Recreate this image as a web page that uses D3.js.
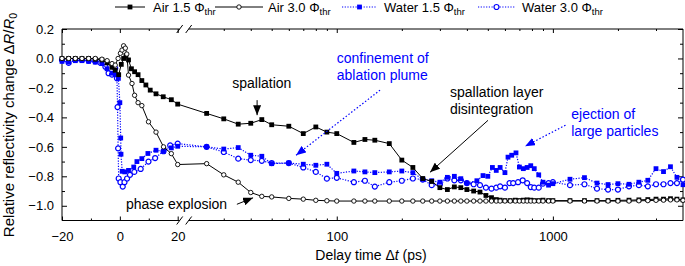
<!DOCTYPE html>
<html>
<head>
<meta charset="utf-8">
<script src="https://cdn.jsdelivr.net/npm/d3@7"></script>
<style>
  body { margin: 0; background: #fff; }
  svg { display: block; font-family: "Liberation Sans", Arial, sans-serif; }
</style>
</head>
<body>
<div id="chart"></div>
<script>

// [delay time (ps), relative reflectivity change]
const air15 = [
    [-20,0],[-17.7,0],[-15.4,0],[-13.1,0],[-10.8,0],[-8.5,-0.005],[-6.2,-0.01],[-4.4,-0.03],[-2.7,-0.06],[-1.6,-0.08],
    [-0.4,-0.11],[0.5,-0.04],[1.3,0],[2.1,0.02],[3,-0.01],[4,-0.07],[5.1,-0.09],[6.3,-0.11],[7.6,-0.15],[9,-0.18],
    [10.5,-0.215],[12.5,-0.24],[15,-0.26],[17.8,-0.28],[20,-0.31],
    [25,-0.373],[30,-0.41],[35,-0.446],[40,-0.44],[45,-0.415],[50,-0.45],[60,-0.46],[70,-0.51],[80,-0.465],[90,-0.5],
    [100,-0.51],[120,-0.57],[135,-0.55],[150,-0.555],[175,-0.578],[200,-0.69],[225,-0.74],[250,-0.815],[275,-0.835],[300,-0.877],
    [325,-0.89],[350,-0.872],[375,-0.877],[400,-0.89],[430,-0.9],[460,-0.907],[490,-0.93],[520,-0.945],[547,-0.958],[570,-0.962],
    [600,-0.965],[635,-0.965],[670,-0.962],[700,-0.965],[730,-0.962],[760,-0.96],[790,-0.962],[820,-0.965],[860,-0.965],[900,-0.962],
    [955,-0.965],[1000,-0.965],[1200,-0.965],[1400,-0.965],[1600,-0.965],[1800,-0.965],[2000,-0.963],[2250,-0.962],[2500,-0.96],[2750,-0.958],
    [3000,-0.955],[3250,-0.955],[3500,-0.952],[3750,-0.955],[4000,-0.96]
];

const air30 = [
    [-20,0],[-17.7,0],[-15.4,0],[-13.1,0],[-10.8,0],[-8.5,0],[-6.2,-0.005],[-4.4,-0.015],[-2.7,-0.035],[-1.6,-0.045],
    [-0.6,0],[0.2,0.035],[0.75,0.057],[1.3,0.086],[1.9,0.07],[2.4,0.03],[3,-0.113],[4.2,-0.17],[5.1,-0.25],[6.3,-0.3],
    [7.6,-0.32],[9.9,-0.43],[12.5,-0.5],[15.1,-0.6],[17.8,-0.646],[20,-0.72],
    [25,-0.714],[30,-0.79],[35,-0.84],[40,-0.91],[45,-0.936],[50,-0.94],[60,-0.95],[70,-0.955],[80,-0.963],[90,-0.966],
    [100,-0.968],[120,-0.968],[135,-0.968],[150,-0.968],[175,-0.968],[200,-0.968],[225,-0.968],[250,-0.968],[275,-0.968],[300,-0.968],
    [325,-0.968],[350,-0.968],[375,-0.968],[400,-0.968],[430,-0.968],[460,-0.968],[490,-0.968],[520,-0.968],[547,-0.968],[570,-0.968],
    [600,-0.968],[635,-0.968],[670,-0.968],[700,-0.968],[730,-0.968],[760,-0.968],[790,-0.968],[820,-0.968],[860,-0.968],[900,-0.968],
    [955,-0.968],[1000,-0.968],[1200,-0.968],[1400,-0.968],[1600,-0.968],[1800,-0.968],[2000,-0.968],[2250,-0.968],[2500,-0.966],[2750,-0.965],
    [3000,-0.963],[3250,-0.962],[3500,-0.96],[3750,-0.96],[4000,-0.963]
];

const water15 = [
    [-20,-0.02],[-17.7,-0.025],[-15.4,-0.015],[-13.1,-0.015],[-10.8,-0.02],[-8.5,-0.025],[-6.2,-0.035],[-4.4,-0.07],[-2.7,-0.1],[-1.6,-0.11],
    [-0.5,-0.135],[0,-0.3],[0.3,-0.54],[0.4,-0.65],[0.8,-0.766],[1.7,-0.77],[3,-0.76],[4.8,-0.737],[5.9,-0.7],[7.6,-0.68],
    [9.7,-0.645],[12.5,-0.623],[15.1,-0.63],[17.8,-0.607],[20,-0.596],
    [25,-0.6],[30,-0.615],[35,-0.605],[40,-0.657],[45,-0.664],[50,-0.714],[60,-0.71],[70,-0.718],[80,-0.725],[90,-0.718],
    [100,-0.78],[120,-0.764],[135,-0.77],[150,-0.775],[175,-0.77],[200,-0.764],[225,-0.775],[250,-0.82],[275,-0.83],[300,-0.84],
    [325,-0.807],[350,-0.8],[375,-0.816],[400,-0.846],[445,-0.83],[475,-0.795],[500,-0.8],[525,-0.74],[547,-0.76],[570,-0.74],
    [600,-0.775],[620,-0.67],[645,-0.657],[675,-0.641],[700,-0.737],[730,-0.748],[760,-0.74],[790,-0.728],[820,-0.748],[860,-0.79],
    [900,-0.84],[955,-0.86],[1000,-0.85],[1200,-0.82],[1400,-0.809],[1600,-0.846],[1800,-0.856],[2000,-0.85],[2250,-0.854],[2500,-0.84],
    [2750,-0.827],[3000,-0.748],[3250,-0.768],[3500,-0.735],[3750,-0.807],[4000,-0.857]
];

const water30 = [
    [-20,-0.01],[-17.7,-0.03],[-15.4,-0.01],[-13.1,-0.01],[-10.8,-0.015],[-8.5,-0.02],[-6.7,-0.03],[-5,-0.056],[-3.9,-0.1],[-2.7,-0.11],
    [-1.6,-0.067],[-1,-0.135],[-0.8,-0.33],[-0.6,-0.61],[-0.4,-0.815],[0.2,-0.84],[1,-0.87],[1.6,-0.84],[2.5,-0.815],[3.5,-0.79],
    [5,-0.77],[7.2,-0.75],[9.9,-0.7],[12.2,-0.676],[15.1,-0.63],[17.4,-0.59],[20,-0.578],
    [25,-0.6],[30,-0.635],[35,-0.68],[40,-0.69],[45,-0.695],[50,-0.71],[60,-0.71],[70,-0.74],[80,-0.77],[90,-0.816],
    [100,-0.81],[120,-0.84],[135,-0.83],[150,-0.87],[175,-0.84],[200,-0.83],[225,-0.815],[250,-0.822],[275,-0.86],[300,-0.854],
    [325,-0.815],[350,-0.827],[375,-0.827],[400,-0.846],[430,-0.854],[460,-0.86],[490,-0.877],[520,-0.884],[547,-0.877],[570,-0.868],
    [600,-0.877],[630,-0.846],[655,-0.846],[690,-0.84],[725,-0.827],[760,-0.846],[790,-0.873],[820,-0.877],[860,-0.877],[900,-0.85],
    [955,-0.846],[1000,-0.84],[1200,-0.86],[1400,-0.854],[1600,-0.884],[1800,-0.89],[2000,-0.89],[2250,-0.868],[2500,-0.86],[2750,-0.868],
    [3000,-0.854],[3250,-0.854],[3500,-0.846],[3750,-0.846],[4000,-0.822]
];

const seriesNames = ["Air 1.5", "Air 3.0", "Water 1.5", "Water 3.0"];

// ticks
const linMajor = [-20, 0, 20];
const linMinor = [-10, 10];
const logMajor = [100, 1000];
const logMinor = [30, 40, 50, 60, 70, 80, 90, 200, 300, 400, 500, 600, 700, 800, 900, 2000, 3000];
const yMajor = [0.2, 0, -0.2, -0.4, -0.6, -0.8, -1.0];
const yMinor = [0.1, -0.1, -0.3, -0.5, -0.7, -0.9];

// annotations (text anchor in data coords)
const noteLines = [
    ["spallation"],
    ["confinement of", "ablation plume"],
    ["spallation layer", "disintegration"],
    ["ejection of", "large particles"],
    ["phase explosion"]
];
const noteAt = [[45, -0.2], [100, -0.031], [334, -0.26], [1216, -0.41], [2.1, -1.024]];
const arrowFrom = [[42.8, -0.283], [158.6, -0.215], [501, -0.42], [1144, -0.453], [34.5, -0.99]];
const arrowTo = [[42.8, -0.385], [64.8, -0.657], [270, -0.773], [744, -0.596], [41, -0.946]];


function ReflectivityChart(id){
    var self = this;
    self.sectionId = id;
    self.initVis();
}

ReflectivityChart.prototype.initVis = function(){
    var self = this;

    self.svgWidth = 685;
    self.svgHeight = 266;
    self.blue = "#0000ff";

    self.svg = d3.select(`#${self.sectionId}`)
        .append("svg")
        .attr("width", self.svgWidth)
        .attr("height", self.svgHeight);

    // broken x axis: linear up to 20 ps, log after
    self.xLin = d3.scaleLinear().domain([-20, 20]).range([62, 177.7]);
    self.xLog = d3.scaleLog().domain([20, 4000]).range([185.7, 683]);
    self.x = function(t){ return t <= 20 ? self.xLin(t) : self.xLog(t); };
    self.y = d3.scaleLinear().domain([-1.1, 0.2]).range([220.5, 29]);

    let x0 = self.xLin.range()[0], x1 = self.xLog.range()[1];
    let yB = self.y.range()[0], yT = self.y.range()[1];
    let brk1 = self.xLin(20) + 2, brk2 = self.xLog(20) + 3;

    // axes
    self.addAxis(d3.axisBottom(self.xLin).tickValues(linMajor).tickFormat(d3.format("d")), yB, -4, true);
    self.addAxis(d3.axisBottom(self.xLin).tickValues(linMinor).tickFormat(""), yB, -2, false);
    self.addAxis(d3.axisBottom(self.xLog).tickValues(logMajor).tickFormat(d3.format("d")), yB, -4, true);
    self.addAxis(d3.axisBottom(self.xLog).tickValues(logMinor).tickFormat(""), yB, -2, false);
    self.addAxis(d3.axisTop(self.xLin).tickValues(linMajor).tickFormat(""), yT, -4, false);
    self.addAxis(d3.axisTop(self.xLin).tickValues(linMinor).tickFormat(""), yT, -2, false);
    self.addAxis(d3.axisTop(self.xLog).tickValues(logMajor).tickFormat(""), yT, -4, false);
    self.addAxis(d3.axisTop(self.xLog).tickValues(logMinor).tickFormat(""), yT, -2, false);

    self.svg.append("g")
        .attr("transform", `translate(${x0},0)`)
        .call(d3.axisLeft(self.y).tickValues(yMajor).tickFormat(d3.format(".1f")).tickSizeInner(-5).tickSizeOuter(0).tickPadding(8))
        .call(g => g.select(".domain").remove())
        .call(g => g.selectAll("text").attr("font-size", 13).attr("font-family", "Liberation Sans, Arial, sans-serif"));
    self.svg.append("g")
        .attr("transform", `translate(${x0},0)`)
        .call(d3.axisLeft(self.y).tickValues(yMinor).tickFormat("").tickSizeInner(-3).tickSizeOuter(0))
        .call(g => g.select(".domain").remove());
    self.svg.append("g")
        .attr("transform", `translate(${x1},0)`)
        .call(d3.axisRight(self.y).tickValues(yMajor).tickFormat("").tickSizeInner(-5).tickSizeOuter(0))
        .call(g => g.select(".domain").remove());
    self.svg.append("g")
        .attr("transform", `translate(${x1},0)`)
        .call(d3.axisRight(self.y).tickValues(yMinor).tickFormat("").tickSizeInner(-3).tickSizeOuter(0))
        .call(g => g.select(".domain").remove());

    // frame with axis break
    let frame = self.svg.append("g").attr("stroke", "#000").attr("stroke-width", 1).attr("fill", "none");
    frame.append("path").attr("d", `M${brk1},${yT}H${x0}V${yB}H${brk1}`);
    frame.append("path").attr("d", `M${brk2},${yT}H${x1}V${yB}H${brk2}`);
    [yT, yB].forEach(function(yy){
        [brk1, brk2].forEach(function(bx){
            frame.append("line")
                .attr("x1", bx - 3).attr("y1", yy + 4)
                .attr("x2", bx + 3).attr("y2", yy - 4);
        });
    });

    // series
    self.line = d3.line().x(d => self.x(d[0])).y(d => self.y(d[1]));

    self.drawSeries(water30, self.blue, "circle", true);
    self.drawSeries(water15, self.blue, "square", true);
    self.drawSeries(air15, "#000", "square", false);
    self.drawSeries(air30, "#000", "circle", false);

    // axis titles
    let xt = self.svg.append("text")
        .attr("x", 371).attr("y", 260)
        .attr("text-anchor", "middle")
        .attr("font-size", 14);
    xt.append("tspan").text("Delay time \u0394");
    xt.append("tspan").attr("font-style", "italic").text("t");
    xt.append("tspan").text(" (ps)");

    let yt = self.svg.append("text")
        .attr("transform", "translate(14,125) rotate(-90)")
        .attr("text-anchor", "middle")
        .attr("font-size", 15);
    yt.append("tspan").text("Relative reflectivity change \u0394");
    yt.append("tspan").attr("font-style", "italic").text("R");
    yt.append("tspan").text("/");
    yt.append("tspan").attr("font-style", "italic").text("R");
    yt.append("tspan").attr("font-size", 10.5).attr("dy", 3).text("0");

    self.drawLegend();
    self.drawNotes();
};

ReflectivityChart.prototype.addAxis = function(axis, yPos, size, labels){
    var self = this;
    self.svg.append("g")
        .attr("transform", `translate(0,${yPos})`)
        .call(axis.tickSizeInner(size).tickSizeOuter(0).tickPadding(11))
        .call(g => g.select(".domain").remove())
        .call(g => g.selectAll("text").attr("font-size", 13).attr("font-family", "Liberation Sans, Arial, sans-serif"));
};

ReflectivityChart.prototype.drawMarker = function(sel, color, shape, water){
    if (shape === "square") {
        sel.append("rect")
            .attr("x", -2.4).attr("y", -2.4)
            .attr("width", 4.8).attr("height", 4.8)
            .attr("fill", color);
    } else {
        sel.append("circle")
            .attr("r", water ? 2.5 : 2.2)
            .attr("fill", "#fff")
            .attr("stroke", color)
            .attr("stroke-width", water ? 1.2 : 0.9);
    }
};

ReflectivityChart.prototype.drawSeries = function(data, color, shape, water){
    var self = this;
    let g = self.svg.append("g");

    g.append("path")
        .datum(data)
        .attr("fill", "none")
        .attr("stroke", color)
        .attr("stroke-width", water ? 1.2 : 1)
        .attr("stroke-dasharray", water ? "1.2,1.5" : null)
        .attr("d", self.line);

    g.selectAll(".pt")
        .data(data)
        .join("g")
        .attr("class", "pt")
        .attr("transform", d => `translate(${self.x(d[0])},${self.y(d[1])})`)
        .each(function(){ self.drawMarker(d3.select(this), color, shape, water); });
};

ReflectivityChart.prototype.drawLegend = function(){
    var self = this;
    // sample line start/end and text x
    let spots = [[115, 145, 153], [215, 263, 268], [342, 377, 384], [478, 515, 522]];
    let styles = [["#000", "square", false], ["#000", "circle", false], [self.blue, "square", true], [self.blue, "circle", true]];
    let ly = 7;

    seriesNames.forEach(function(name, i){
        let s = spots[i], st = styles[i];
        let g = self.svg.append("g");
        g.append("line")
            .attr("x1", s[0]).attr("x2", s[1])
            .attr("y1", ly).attr("y2", ly)
            .attr("stroke", st[0])
            .attr("stroke-width", st[2] ? 1.2 : 1)
            .attr("stroke-dasharray", st[2] ? "1.2,1.5" : null);
        let m = g.append("g").attr("transform", `translate(${(s[0] + s[1]) / 2},${ly})`);
        self.drawMarker(m, st[0], st[1], st[2]);
        let t = g.append("text")
            .attr("x", s[2]).attr("y", ly + 5)
            .attr("font-size", 13);
        t.append("tspan").text(name + " \u03a6");
        t.append("tspan").attr("font-size", 9.5).attr("dy", 3).text("thr");
    });
};

ReflectivityChart.prototype.drawNotes = function(){
    var self = this;
    let defs = self.svg.append("defs");
    [["arrBlack", "#000"], ["arrBlue", self.blue]].forEach(function(a){
        defs.append("marker")
            .attr("id", a[0])
            .attr("viewBox", "0 0 10 8")
            .attr("refX", 10).attr("refY", 4)
            .attr("markerWidth", 10).attr("markerHeight", 8)
            .attr("markerUnits", "userSpaceOnUse")
            .attr("orient", "auto")
            .append("path")
            .attr("d", "M0,0L10,4L0,8Z")
            .attr("fill", a[1]);
    });

    let colors = ["#000", self.blue, "#000", self.blue, "#000"];
    let anchors = ["middle", "start", "start", "start", "start"];

    noteLines.forEach(function(lines, i){
        let blue = colors[i] !== "#000";
        let txt = self.svg.append("text")
            .attr("x", self.x(noteAt[i][0]))
            .attr("y", self.y(noteAt[i][1]))
            .attr("text-anchor", anchors[i])
            .attr("font-size", 14)
            .attr("fill", colors[i]);
        lines.forEach(function(l, j){
            txt.append("tspan")
                .attr("x", self.x(noteAt[i][0]))
                .attr("dy", j === 0 ? 0 : 17)
                .text(l);
        });

        self.svg.append("line")
            .attr("x1", self.x(arrowFrom[i][0])).attr("y1", self.y(arrowFrom[i][1]))
            .attr("x2", self.x(arrowTo[i][0])).attr("y2", self.y(arrowTo[i][1]))
            .attr("stroke", colors[i])
            .attr("stroke-width", blue ? 1.2 : 1)
            .attr("stroke-dasharray", blue ? "1.5,2" : null)
            .attr("marker-end", blue ? "url(#arrBlue)" : "url(#arrBlack)");
    });
};

new ReflectivityChart("chart");

</script>
</body>
</html>
